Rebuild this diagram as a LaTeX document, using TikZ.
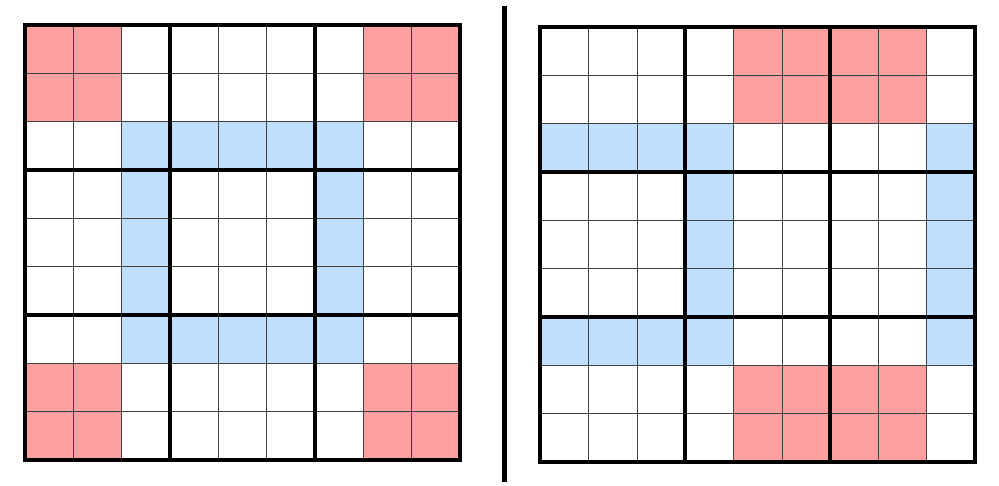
\documentclass[tikz,border=0pt]{standalone}
\definecolor{redcell}{HTML}{FFA0A0}
\definecolor{bluecell}{HTML}{BFE0FF}
\tikzset{
  thinline/.style={draw=black!75, line width=0.9pt},
  thickline/.style={draw=black, line width=4pt},
  outerline/.style={draw=black, line width=4pt, line join=miter},
  divider/.style={draw=black, line width=5pt},
  redfill/.style={fill=redcell},
  bluefill/.style={fill=bluecell}
}
\newcommand\sudokugrid[5]{%
  \begin{scope}[shift={(#1,#2)}, x=#3pt, y=-#3pt]
    \foreach \r/\c in {#4} \fill[redfill] (\c,\r) rectangle ++(1,1);
    \foreach \r/\c in {#5} \fill[bluefill] (\c,\r) rectangle ++(1,1);
    \foreach \i in {1,2,4,5,7,8} {
      \draw[thinline] (\i,0) -- (\i,9);
      \draw[thinline] (0,\i) -- (9,\i);
    }
    \foreach \i in {3,6} {
      \draw[thickline] (\i,0) -- (\i,9);
      \draw[thickline] (0,\i) -- (9,\i);
    }
    \draw[outerline] (0,0) rectangle (9,9);
  \end{scope}}
\begin{document}
\begin{tikzpicture}[x=1pt,y=-1pt]
\useasboundingbox (0,0) rectangle (999,486);
% left grid
\sudokugrid{25}{25}{48.28}{0/0,0/1,1/0,1/1,0/7,0/8,1/7,1/8,7/0,7/1,8/0,8/1,7/7,7/8,8/7,8/8}{2/2,2/3,2/4,2/5,2/6,6/2,6/3,6/4,6/5,6/6,3/2,4/2,5/2,3/6,4/6,5/6}
% right grid
\sudokugrid{540.3}{27}{48.33}{0/4,0/5,0/6,0/7,1/4,1/5,1/6,1/7,7/4,7/5,7/6,7/7,8/4,8/5,8/6,8/7}{2/0,2/1,2/2,2/3,2/8,6/0,6/1,6/2,6/3,6/8,3/3,4/3,5/3,3/8,4/8,5/8}
% divider
\coordinate (dtop) at (504.5,6.5);
\coordinate (dbot) at (504.5,482);
\draw[divider] (dtop) -- (dbot);
\end{tikzpicture}
\end{document}
